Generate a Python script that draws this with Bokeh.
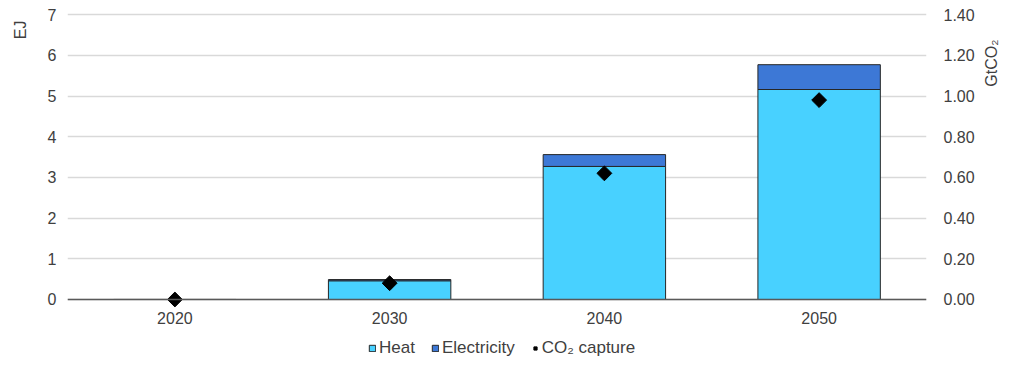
import math
from bokeh.plotting import figure
from bokeh.models import (FactorRange, Range1d, LinearAxis, Legend, LegendItem,
                          NumeralTickFormatter, FixedTicker)
from bokeh.embed import file_html
from bokeh.resources import INLINE

years = ["2020", "2030", "2040", "2050"]
heat = [0.0, 0.46, 3.27, 5.16]
electricity = [0.0, 0.03, 0.29, 0.61]
co2_capture = [0.0, 0.08, 0.62, 0.98]
ej_ticks = [0, 1, 2, 3, 4, 5, 6, 7]
gt_ticks = [0.0, 0.2, 0.4, 0.6, 0.8, 1.0, 1.2, 1.4]
left_title = "EJ"
right_title = "GtCO₂"

FONT = "Liberation Sans"
TXT = "#404040"
FS = "16px"

# frame extends below zero to leave room for the legend inside the frame
p = figure(x_range=FactorRange(*years, range_padding=0), y_range=Range1d(-1.745, 7.2),
           frame_width=859, frame_height=364, output_backend="svg", toolbar_location=None,
           min_border_left=65, min_border_right=90, min_border_top=6, min_border_bottom=0)
p.extra_y_ranges = {"co2": Range1d(-0.349, 1.44), "lab": Range1d(0, 1)}

src = dict(years=years, heat=heat, electricity=electricity, co2=co2_capture)
r = p.vbar_stack(["heat", "electricity"], x="years", width=0.57, source=src,
                 color=["#48D1FF", "#3D78D6"], line_color="#262626", line_width=1)
m = p.scatter(x="years", y="co2", source=src, y_range_name="co2", marker="square",
              angle=math.pi / 4, size=10.5, color="black")

p.outline_line_color = None
p.xgrid.grid_line_color = None
p.ygrid.grid_line_color = "#d9d9d9"
p.ygrid.grid_line_width = 1.5
p.yaxis.ticker = FixedTicker(ticks=ej_ticks)


def style(ax):
    ax.axis_line_color = None
    ax.major_tick_line_color = None
    ax.minor_tick_line_color = None
    ax.major_label_text_font = FONT
    ax.major_label_text_font_size = FS
    ax.major_label_text_color = TXT


style(p.xaxis[0])
style(p.yaxis[0])
p.yaxis.major_label_standoff = 5
p.xaxis.fixed_location = 0
p.xaxis.axis_line_color = "#595959"
p.xaxis.axis_line_width = 1.5
p.xaxis.major_label_standoff = 7

ra = LinearAxis(y_range_name="co2", ticker=FixedTicker(ticks=gt_ticks),
                formatter=NumeralTickFormatter(format="0.00"))
style(ra)
ra.major_label_standoff = 11
p.add_layout(ra, "right")

# axis titles drawn at the top of each side
lpos = 0.9615
la = LinearAxis(y_range_name="lab", ticker=FixedTicker(ticks=[lpos]),
                major_label_overrides={lpos: left_title})
style(la)
la.major_label_orientation = math.pi / 2
la.major_label_standoff = 18
p.add_layout(la, "left")

rpos = 0.9945
rt = LinearAxis(y_range_name="lab", ticker=FixedTicker(ticks=[rpos]),
                major_label_overrides={rpos: right_title})
style(rt)
rt.major_label_orientation = math.pi / 2
rt.major_label_standoff = 8
p.add_layout(rt, "right")

legend = Legend(items=[LegendItem(label="Heat", renderers=[r[0]]),
                       LegendItem(label="Electricity", renderers=[r[1]]),
                       LegendItem(label="CO₂ capture", renderers=[m])],
                orientation="horizontal", location=(301, 12),
                label_text_font=FONT, label_text_font_size="17px", label_text_color=TXT,
                glyph_width=8, glyph_height=8, spacing=16, label_standoff=3,
                border_line_color=None, background_fill_alpha=0, padding=0, margin=0)
p.add_layout(legend)

open("out.html", "w").write(file_html(p, INLINE))
